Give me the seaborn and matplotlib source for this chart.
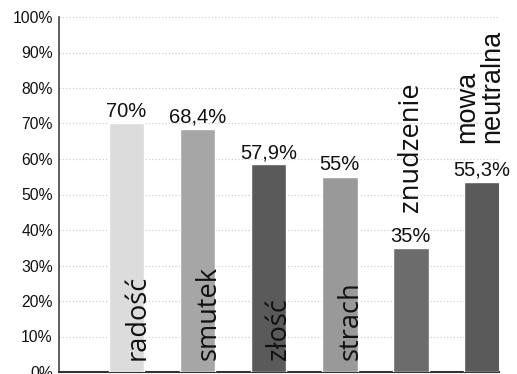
import matplotlib
matplotlib.use("Agg")
import matplotlib.pyplot as plt
import seaborn as sns
import pandas as pd
from matplotlib.ticker import FuncFormatter

categories = ["radość", "smutek", "złość", "strach", "znudzenie", "mowa\nneutralna"]
values = [70, 68.4, 58.5, 55, 35, 53.5]
value_labels = ["70%", "68,4%", "57,9%", "55%", "35%", "55,3%"]
colors = ["#dcdcdc", "#a6a6a6", "#5a5a5a", "#999999", "#6c6c6c", "#5a5a5a"]
yticks = list(range(0, 101, 10))

sns.set_theme(style="white")
plt.rcParams['font.family'] = ['Liberation Sans', 'DejaVu Sans']

df = pd.DataFrame({"cat": categories, "val": values})

fig = plt.figure(figsize=(5.17, 3.74), dpi=100)
ax = fig.add_axes([59/517, 2/374, 440/517, 355/374])

sns.barplot(data=df, x="cat", y="val", hue="cat", palette=colors, legend=False,
            width=0.5, ax=ax, saturation=1, zorder=3)

ax.set_ylim(0, 100)
ax.set_xlim(-0.95, 5.24)
ax.set_yticks(yticks)
ax.yaxis.set_major_formatter(FuncFormatter(lambda v, p: f"{int(v)}%"))
ax.tick_params(axis='y', length=0, pad=4.5, labelsize=11.3, labelcolor="#111111")
ax.set_xticks([])
ax.set_xlabel("")
ax.set_ylabel("")
ax.grid(axis='y', color="#cfcfcf", linestyle=':', linewidth=0.9, zorder=0)
for s in ["top", "right"]:
    ax.spines[s].set_visible(False)
ax.spines["left"].set_color("#444444")
ax.spines["left"].set_linewidth(1.2)
ax.spines["bottom"].set_color("#333333")
ax.spines["bottom"].set_linewidth(1.5)

# value labels
for i, (v, lab) in enumerate(zip(values, value_labels)):
    ax.annotate(lab, (i, v), xytext=(0, 4.5), textcoords="offset points",
                ha="center", va="baseline", fontsize=14.5, color="#111111",
                family=['Liberation Sans', 'DejaVu Sans'], zorder=5)

# category labels inside bars (first four)
for i in range(4):
    ax.text(i + 0.25, 3.4, categories[i], rotation=90, rotation_mode="anchor",
            ha="left", va="baseline", fontsize=19.5, color="#111111",
            family=['Open Sans', 'DejaVu Sans'], zorder=5)

# category labels above bars (last two)
ax.text(4 + 0.1, 45.0, categories[4], rotation=90, rotation_mode="anchor",
        ha="left", va="baseline", fontsize=19.5, color="#111111",
        family=['Open Sans', 'DejaVu Sans'], zorder=5)
ax.text(5 + 0.25, 64.5, categories[5], rotation=90, rotation_mode="anchor",
        ha="left", va="baseline", fontsize=19.5, color="#111111",
        family=['Liberation Sans', 'DejaVu Sans'], linespacing=0.95, zorder=5)

fig.savefig("out.png", dpi=100)
